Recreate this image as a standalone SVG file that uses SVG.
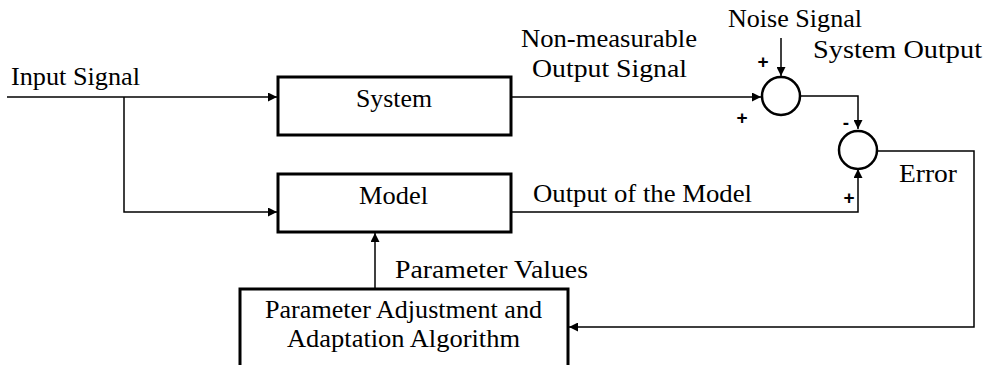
<svg xmlns="http://www.w3.org/2000/svg" width="985" height="365" viewBox="0 0 985 365">
<style>
.t{font-family:"Liberation Serif","Times New Roman",serif;font-size:26px;fill:#000}
.box{fill:#fff;stroke:#000;stroke-width:3}
.sum{fill:#fff;stroke:#000;stroke-width:2.5}
.ln{fill:none;stroke:#000;stroke-width:1.5}
.sg{font-family:"Liberation Sans",Arial,sans-serif;font-weight:bold;font-size:19px;fill:#000;text-anchor:middle}
</style>
<defs>
<marker id="ah" viewBox="0 0 10 10" refX="10" refY="5" markerWidth="10" markerHeight="9" markerUnits="userSpaceOnUse" orient="auto">
<path d="M0,0 L10,5 L0,10 z" fill="#000"/>
</marker>
</defs>
<g id="connectors">
<path class="ln" d="M7,97 H277" marker-end="url(#ah)"/>
<path class="ln" d="M124,97 V212 H277" marker-end="url(#ah)"/>
<path class="ln" d="M511,97 H761" marker-end="url(#ah)"/>
<path class="ln" d="M781,38 V76" marker-end="url(#ah)"/>
<path class="ln" d="M800,96 H858 V129" marker-end="url(#ah)"/>
<path class="ln" d="M511,212 H858 V169" marker-end="url(#ah)"/>
<path class="ln" d="M877,151 H974 V327 H569" marker-end="url(#ah)"/>
<path class="ln" d="M375,289 V233" marker-end="url(#ah)"/>
</g>
<g id="system"><rect class="box" x="278" y="77" width="233" height="58"/><text class="t" x="356" y="107" textLength="76" lengthAdjust="spacingAndGlyphs">System</text></g>
<g id="model"><rect class="box" x="278" y="174" width="233" height="58"/><text class="t" x="359" y="204" textLength="69" lengthAdjust="spacingAndGlyphs">Model</text></g>
<g id="param"><path class="box" d="M240,366 V289 H568 V366"/><text class="t" x="265" y="318" textLength="277" lengthAdjust="spacingAndGlyphs">Parameter Adjustment and</text><text class="t" x="287" y="347" textLength="233" lengthAdjust="spacingAndGlyphs">Adaptation Algorithm</text></g>
<g id="sum1"><circle class="sum" cx="781" cy="96" r="19"/></g>
<g id="sum2"><circle class="sum" cx="858" cy="150" r="19"/></g>
<g id="labels">
<text class="t" x="11" y="85" textLength="129" lengthAdjust="spacingAndGlyphs">Input Signal</text>
<text class="t" x="521" y="47" textLength="176" lengthAdjust="spacingAndGlyphs">Non-measurable</text>
<text class="t" x="532" y="77" textLength="155" lengthAdjust="spacingAndGlyphs">Output Signal</text>
<text class="t" x="728" y="27" textLength="134" lengthAdjust="spacingAndGlyphs">Noise Signal</text>
<text class="t" x="813" y="58" textLength="169" lengthAdjust="spacingAndGlyphs">System Output</text>
<text class="t" x="899" y="182" textLength="58" lengthAdjust="spacingAndGlyphs">Error</text>
<text class="t" x="533" y="202" textLength="219" lengthAdjust="spacingAndGlyphs">Output of the Model</text>
<text class="t" x="395" y="278" textLength="193" lengthAdjust="spacingAndGlyphs">Parameter Values</text>
<text class="sg" x="763" y="68">+</text>
<text class="sg" x="742" y="124">+</text>
<text class="sg" x="846" y="129">-</text>
<text class="sg" x="849" y="204">+</text>
</g>
</svg>
